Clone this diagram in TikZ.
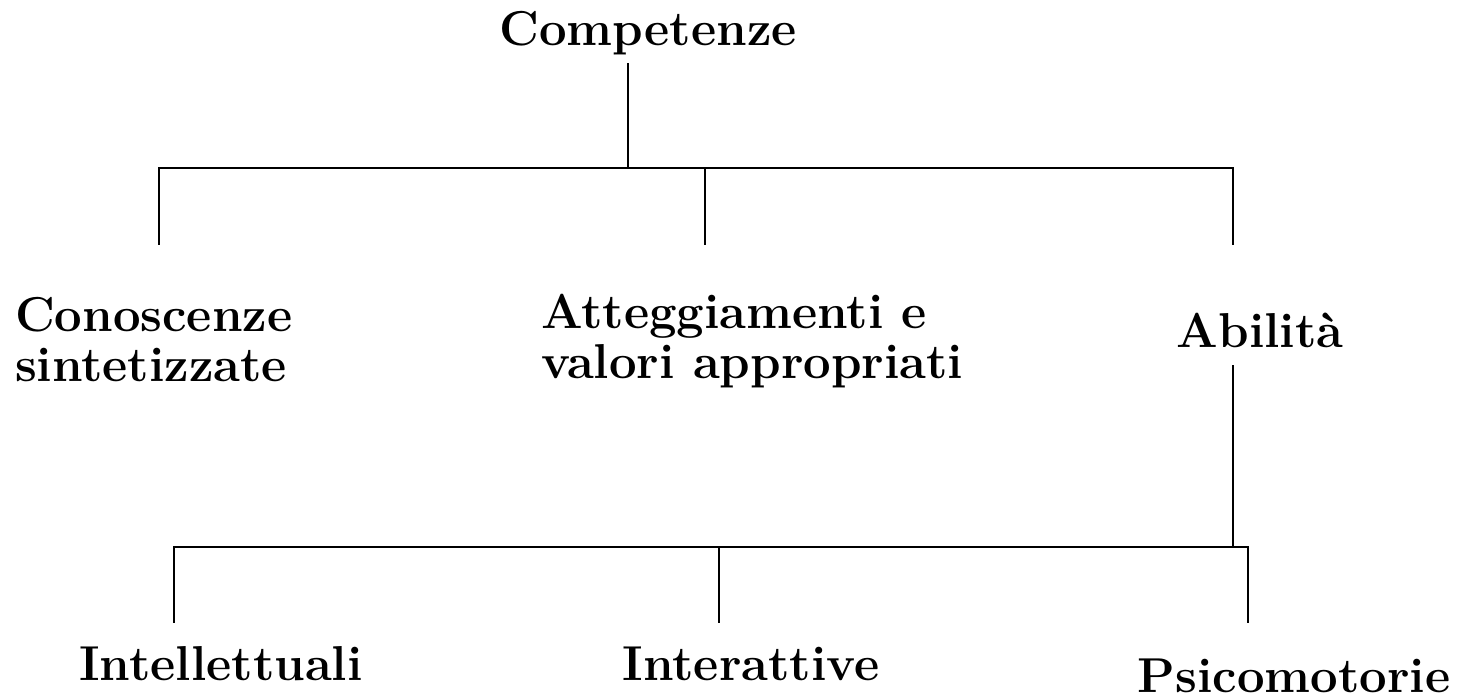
\documentclass[tikz,border=0pt]{standalone}
\begin{document}
\begin{tikzpicture}[x=1pt,y=-1pt,
  lbl/.style={inner sep=0pt,outer sep=0pt,font=\fontsize{49}{50}\selectfont\bfseries},
  conn/.style={line width=1.6pt,line cap=rect}]
\useasboundingbox (0,0) rectangle (1466,698);
% texts
\node[lbl,anchor=base] (comp) at (648,46) {Competenze};
\node[lbl,anchor=base west,align=left] (con) at (15,381) {Conoscenze\\sintetizzate};
\node[lbl,anchor=base west,align=left] (att) at (541,378) {Atteggiamenti e\\valori appropriati};
\node[lbl,anchor=base] (abi) at (1260,347) {Abilità};
\node[lbl,anchor=base] (int) at (221,680) {Intellettuali};
\node[lbl,anchor=base] (inr) at (751,680) {Interattive};
\node[lbl,anchor=base] (psi) at (1294,692) {Psicomotorie};
% connector points
\coordinate (c0) at (628,64);
\coordinate (c1) at (628,168);
\coordinate (tl) at (159,168);
\coordinate (tm) at (705,168);
\coordinate (tr) at (1233,168);
\coordinate (dl) at (159,244);
\coordinate (dm) at (705,244);
\coordinate (dr) at (1233,244);
\coordinate (a0) at (1233,366);
\coordinate (a1) at (1233,547);
\coordinate (bl) at (174,547);
\coordinate (bm) at (719,547);
\coordinate (br) at (1248,547);
\coordinate (el) at (174,622);
\coordinate (em) at (719,622);
\coordinate (er) at (1248,622);
% connectors
\draw[conn] (c0) -- (c1);
\draw[conn] (dl) -- (tl) -- (tr) -- (dr);
\draw[conn] (tm) -- (dm);
\draw[conn] (a0) -- (a1);
\draw[conn] (el) -- (bl) -- (br) -- (er);
\draw[conn] (bm) -- (em);
\end{tikzpicture}
\end{document}
